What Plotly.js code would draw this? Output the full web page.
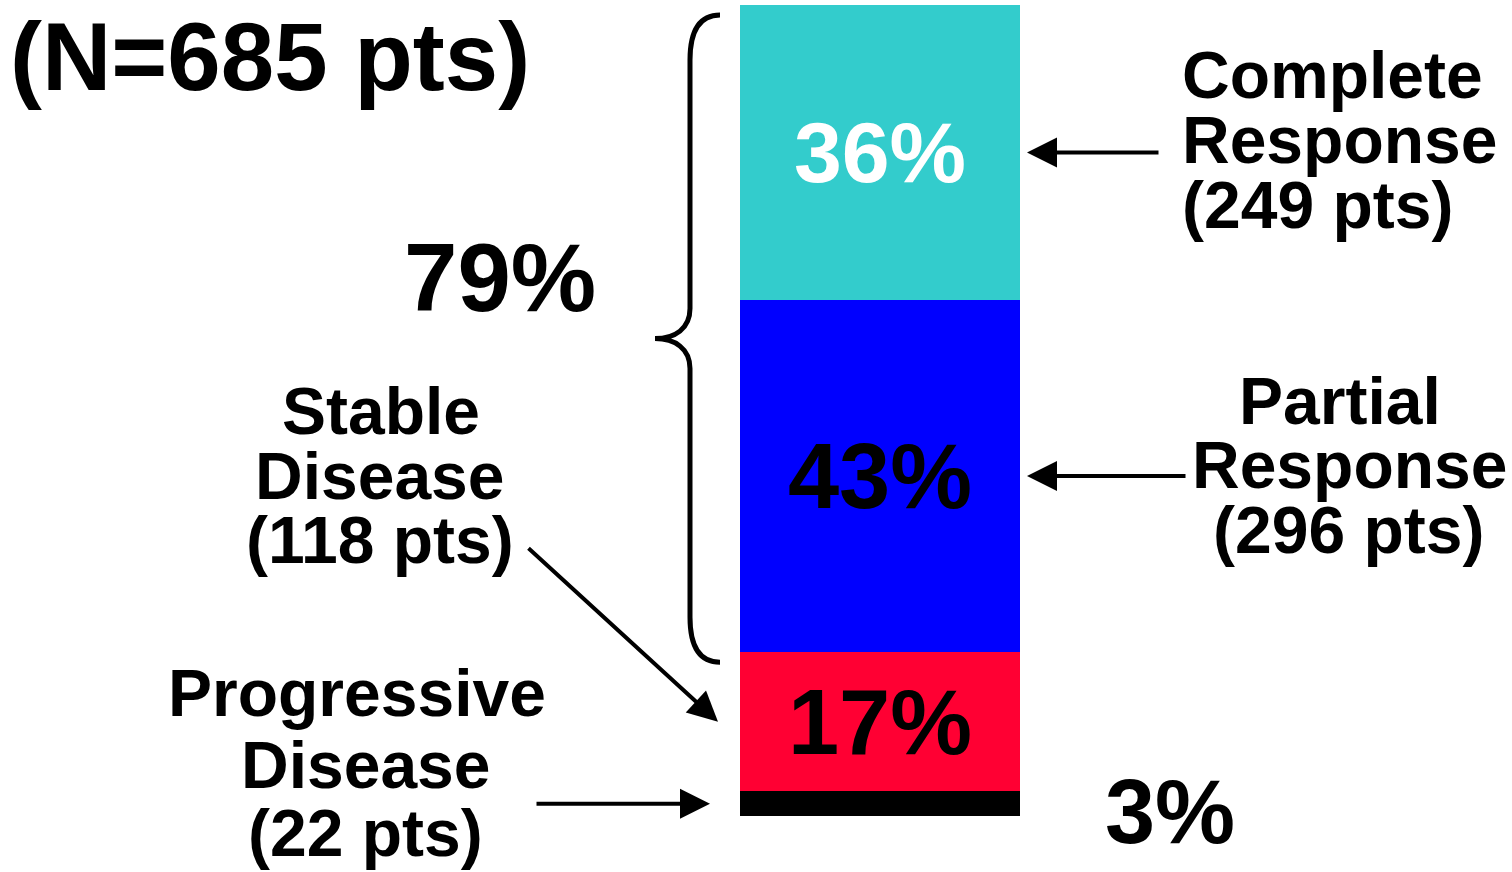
<!DOCTYPE html>
<html>
<head>
<meta charset="utf-8">
<script src="https://cdn.plot.ly/plotly-3.0.1.min.js"></script>
<style>
  html, body { margin: 0; padding: 0; background: #ffffff; }
  #chart { width: 1512px; height: 872px; }
</style>
</head>
<body>
<div id="chart"></div>
<script>
// Response categories, stacked from the bottom of the bar upwards
const categories = ['Progressive Disease', 'Stable Disease', 'Partial Response', 'Complete Response'];
const percents = [3, 17, 43, 36];
const patients = [22, 118, 296, 249];
const colors = ['#000000', '#FF0033', '#0000FF', '#33CCCC'];
const insideTextColors = ['#000000', '#000000', '#000000', '#ffffff'];
const totalPatients = 685;

const FONT = 'Liberation Sans, Arial, Helvetica, sans-serif';
const W = 1512, H = 872;

// pixel layout of the bar column
const BAR_LEFT = 740, BAR_RIGHT = 1020, BAR_BOTTOM = 816, BAR_TOP = 5;
const total = percents.reduce((a, b) => a + b, 0);
const pxPerX = BAR_RIGHT - BAR_LEFT;
const pxPerY = (BAR_BOTTOM - BAR_TOP) / total;
const X = px => (px - BAR_LEFT) / pxPerX - 0.5;
const Y = py => (BAR_BOTTOM - py) / pxPerY;
const toPy = v => BAR_BOTTOM - v * pxPerY;

// cumulative stack positions
const starts = [];
let acc = 0;
percents.forEach(p => { starts.push(acc); acc += p; });
const mid = i => starts[i] + percents[i] / 2;

const traces = categories.map((name, i) => ({
  type: 'bar',
  name: name,
  x: [0],
  y: [percents[i]],
  width: [1],
  marker: { color: colors[i], line: { width: 0 } },
  text: [i === 0 ? '' : percents[i] + '%'],
  textposition: 'inside',
  insidetextanchor: 'middle',
  textangle: 0,
  constraintext: 'none',
  textfont: { family: FONT, weight: 'bold', size: i === 3 ? 86 : 92, color: insideTextColors[i] },
  hoverinfo: 'skip',
  showlegend: false
}));

// text helper: one annotation per line, placed by pixel position
function textLine(txt, px, py, size, anchor) {
  return {
    xref: 'x', yref: 'y', x: X(px), y: Y(py),
    text: txt, showarrow: false,
    xanchor: anchor || 'center', yanchor: 'middle',
    font: { family: FONT, weight: 'bold', size: size, color: '#000000' }
  };
}

function arrow(tipPx, tipVal, ax, ay) {
  return {
    xref: 'x', yref: 'y', x: X(tipPx), y: tipVal,
    text: '', showarrow: true,
    ax: ax, ay: ay, axref: 'pixel', ayref: 'pixel',
    arrowhead: 2, arrowsize: 1.5, arrowwidth: 4, arrowcolor: '#000000',
    standoff: 0, startstandoff: 0
  };
}

const LBL = 66;
const responders = percents[2] + percents[3];

const annotations = [
  textLine('(N=' + totalPatients + ' pts)', 270, 56, 96),
  textLine(responders + '%', 500, 277, 96),

  // Complete Response
  textLine('Complete', 1180, 75, LBL, 'left'),
  textLine('Response', 1180, 140, LBL, 'left'),
  textLine('(' + patients[3] + ' pts)', 1180, 205, LBL, 'left'),
  arrow(1027, mid(3), 133, 0),

  // Partial Response
  textLine('Partial', 1340, 401, LBL),
  textLine('Response', 1349, 465, LBL),
  textLine('(' + patients[2] + ' pts)', 1348, 530, LBL),
  arrow(1027, mid(2), 160, 0),

  // Stable Disease
  textLine('Stable', 381, 411, LBL),
  textLine('Disease', 380, 476, LBL),
  textLine('(' + patients[1] + ' pts)', 380, 540, LBL),
  arrow(718, mid(1), -191, -175),

  // Progressive Disease
  textLine('Progressive', 357, 693, LBL),
  textLine('Disease', 366, 765, LBL),
  textLine('(' + patients[0] + ' pts)', 365, 833, LBL),
  arrow(710, mid(0), -175, 0),

  // value of the thin black segment, printed beside the bar
  textLine(percents[0] + '%', 1170, 812, 90)
];

// curly brace spanning the Complete + Partial Response segments
const braceTop = toPy(total) + 10;
const braceBot = toPy(percents[0] + percents[1]) + 10;
const braceMid = (braceTop + braceBot) / 2;
const P = (px, py) => X(px) + ',' + Y(py);
const bracePath =
  'M' + P(720, braceTop) +
  ' C' + P(700, braceTop) + ' ' + P(690, braceTop + 15) + ' ' + P(690, braceTop + 45) +
  ' L' + P(690, braceMid - 30) +
  ' C' + P(690, braceMid - 10) + ' ' + P(675, braceMid) + ' ' + P(655, braceMid) +
  ' C' + P(675, braceMid) + ' ' + P(690, braceMid + 10) + ' ' + P(690, braceMid + 30) +
  ' L' + P(690, braceBot - 45) +
  ' C' + P(690, braceBot - 15) + ' ' + P(700, braceBot) + ' ' + P(720, braceBot);

const layout = {
  width: W, height: H,
  margin: { l: 0, r: 0, t: 0, b: 0, pad: 0 },
  paper_bgcolor: '#ffffff',
  plot_bgcolor: '#ffffff',
  barmode: 'stack',
  bargap: 0,
  showlegend: false,
  xaxis: { range: [X(0), X(W)], visible: false, fixedrange: true },
  yaxis: { range: [Y(H), Y(0)], visible: false, fixedrange: true },
  shapes: [{
    type: 'path', xref: 'x', yref: 'y', path: bracePath,
    line: { color: '#000000', width: 5 }, fillcolor: 'rgba(0,0,0,0)'
  }],
  annotations: annotations
};

Plotly.newPlot('chart', traces, layout, { staticPlot: true, displayModeBar: false });
</script>
</body>
</html>
